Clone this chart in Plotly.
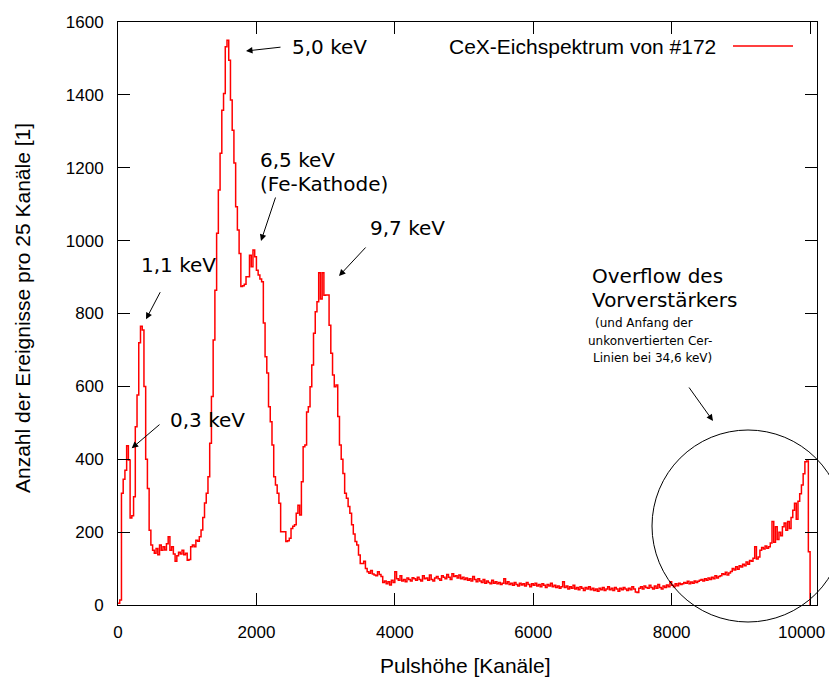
import numpy as np
import plotly.graph_objects as go

# ---- data: counts per 25-channel bin ----
bin_width = 25
counts = [
    5, 14, 307, 345, 370, 437, 398, 239, 245, 297, 489, 576, 720, 765, 755, 600, 400, 320, 205, 165,
    150, 142, 155, 138, 165, 150, 160, 151, 168, 187, 150, 160, 140, 120, 135, 145, 140, 150, 138, 142,
    123, 125, 160, 165, 160, 178, 175, 187, 206, 240, 280, 307, 352, 444, 572, 727, 864, 1020, 1139, 1240,
    1358, 1404, 1532, 1550, 1495, 1386, 1303, 1213, 1093, 1029, 965, 874, 876, 880, 901, 901, 960, 928, 974, 956,
    919, 906, 895, 887, 774, 681, 637, 544, 503, 439, 352, 329, 307, 279, 201, 201, 201, 174, 176, 183,
    210, 216, 220, 252, 274, 247, 338, 434, 439, 530, 544, 599, 659, 746, 805, 832, 912, 840, 912, 850,
    851, 851, 768, 691, 631, 599, 604, 517, 439, 400, 361, 307, 293, 270, 252, 220, 195, 174, 165, 137,
    114, 114, 120, 100, 91, 87, 95, 85, 82, 80, 91, 84, 78, 62, 66, 58, 64, 55, 68, 62,
    91, 72, 68, 80, 66, 70, 64, 74, 70, 66, 75, 72, 68, 76, 70, 66, 80, 72, 74, 68,
    82, 70, 66, 74, 78, 72, 68, 80, 76, 72, 84, 76, 70, 86, 78, 80, 74, 82, 72, 76,
    70, 74, 68, 72, 66, 78, 70, 64, 72, 66, 62, 70, 60, 66, 62, 58, 68, 60, 64, 58,
    62, 56, 60, 72, 58, 64, 56, 60, 54, 62, 56, 52, 60, 55, 58, 52, 62, 56, 50, 58,
    54, 60, 52, 56, 50, 58, 54, 48, 56, 52, 60, 50, 54, 48, 52, 46, 50, 64, 48, 52,
    44, 50, 46, 54, 44, 48, 42, 50, 46, 40, 48, 44, 50, 42, 46, 40, 44, 38, 46, 42,
    48, 40, 44, 50, 42, 46, 40, 48, 44, 38, 46, 42, 48, 44, 40, 46, 42, 50, 44, 36,
    34, 46, 50, 44, 52, 48, 46, 54, 48, 44, 52, 46, 56, 48, 44, 52, 48, 55, 50, 64,
    54, 50, 58, 53, 60, 56, 58, 62, 60, 65, 58, 63, 60, 66, 62, 65, 68, 70, 66, 72,
    68, 74, 70, 76, 72, 80, 74, 78, 80, 86, 84, 90, 82, 88, 92, 100, 96, 105, 98, 108,
    104, 112, 108, 118, 112, 122, 120, 128, 160, 126, 132, 150, 158, 154, 162, 156, 160, 170, 229, 172,
    215, 180, 200, 190, 215, 225, 205, 229, 210, 240, 260, 279, 235, 285, 305, 329, 360, 393, 395, 146,
]
x_ticks = [0, 2000, 4000, 6000, 8000, 10000]
x_ticktext = ["0", "2000", "4000", "6000", "8000", ""]   # last label placed separately (shifted, as in ref)
y_ticks = [0, 200, 400, 600, 800, 1000, 1200, 1400, 1600]
series_name = "CeX-Eichspektrum von #172"

edges = list(np.arange(len(counts) + 1) * bin_width)
xs = edges
ys = counts + [0]

# ---- geometry (reference pixel coords -> paper); page body has an 8px margin ----
OFF = 8
W, H = 837 - OFF, 681 - OFF
L, R, T, B = 118, 817, 22, 605   # plot area in page pixels


def px(x):
    return (x - L) / (R - L)


def py(y):
    return (B - y) / (B - T)


RED = "#ff0000"
TICKFONT = dict(family="Liberation Sans, Arial, sans-serif", size=17, color="black")
TITLEFONT = dict(family="Liberation Sans, Arial, sans-serif", size=21, color="black")
ANNFONT = dict(family="DejaVu Sans, sans-serif", size=20, color="black")
SMALLFONT = dict(family="DejaVu Sans, sans-serif", size=12, color="black")

fig = go.Figure()
fig.add_trace(go.Scatter(x=xs, y=ys, mode="lines", line=dict(color=RED, width=1.5, shape="hv"),
                         showlegend=False, hoverinfo="skip"))

axis_common = dict(showgrid=False, zeroline=False, showline=True, linecolor="black", linewidth=1,
                   ticks="inside", ticklen=12, tickwidth=1, tickcolor="black", mirror="allticks",
                   tickfont=TICKFONT)
fig.update_xaxes(range=[0, 10100], tickvals=x_ticks, ticktext=x_ticktext, ticklabelstandoff=12,
                 **axis_common)
fig.update_yaxes(range=[0, 1600], tickvals=y_ticks, ticklabelstandoff=10, **axis_common)

ann = []


def text(s, x, y, font=ANNFONT, xanchor="left"):
    ann.append(dict(text=s, x=px(x), y=py(y), xref="paper", yref="paper", showarrow=False,
                    xanchor=xanchor, yanchor="middle", font=font))


def arrow(head, tail):
    ann.append(dict(text="", x=px(head[0]), y=py(head[1]), xref="paper", yref="paper",
                    showarrow=True, ax=tail[0] - head[0], ay=tail[1] - head[1],
                    arrowhead=2, arrowsize=1.3, arrowwidth=1, arrowcolor="black", standoff=0))


text("5,0 keV", 290, 47)
text("6,5 keV", 258, 160)
text("(Fe-Kathode)", 258, 184)
text("9,7 keV", 368, 228)
text("1,1 keV", 139, 265)
text("0,3 keV", 168, 420)
text("Overflow des", 590, 276)
text("Vorverstärkers", 590, 300)
text("(und Anfang der", 593, 323, SMALLFONT)
text("unkonvertierten Cer-", 586, 341, SMALLFONT)
text("Linien bei 34,6 keV)", 591, 358, SMALLFONT)

arrow((131.7, 448.3), (161, 423.3))
arrow((146, 319.3), (161, 290.7))
arrow((246, 51), (282, 47))
arrow((261, 241), (276, 196))
arrow((339, 276), (367, 246))
arrow((713, 421), (688, 386))

# last x tick label (shifted left like in the reference)
text("10000", 801, 632, TICKFONT, xanchor="center")

# legend (gnuplot style: text then sample line)
text(series_name, 718, 46, TITLEFONT, xanchor="right")

# axis titles
text("Pulshöhe [Kanäle]", 465, 665, TITLEFONT, xanchor="center")
ann.append(dict(text="Anzahl der Ereignisse pro 25 Kanäle [1]", x=px(22), y=py(308), xref="paper",
                yref="paper", showarrow=False, textangle=-90, xanchor="center", yanchor="middle",
                font=TITLEFONT))

shapes = [
    dict(type="line", xref="paper", yref="paper", x0=px(733), x1=px(793), y0=py(46), y1=py(46),
         line=dict(color=RED, width=1.5)),
    dict(type="circle", xref="paper", yref="paper", x0=px(652), x1=px(844), y0=py(430), y1=py(622),
         line=dict(color="black", width=1)),
]

fig.update_layout(width=W, height=H,
                  margin=dict(l=L - OFF, r=W - (R - OFF), t=T - OFF, b=H - (B - OFF), autoexpand=False),
                  paper_bgcolor="white", plot_bgcolor="white", annotations=ann, shapes=shapes,
                  showlegend=False)

fig.write_html("out.html")
